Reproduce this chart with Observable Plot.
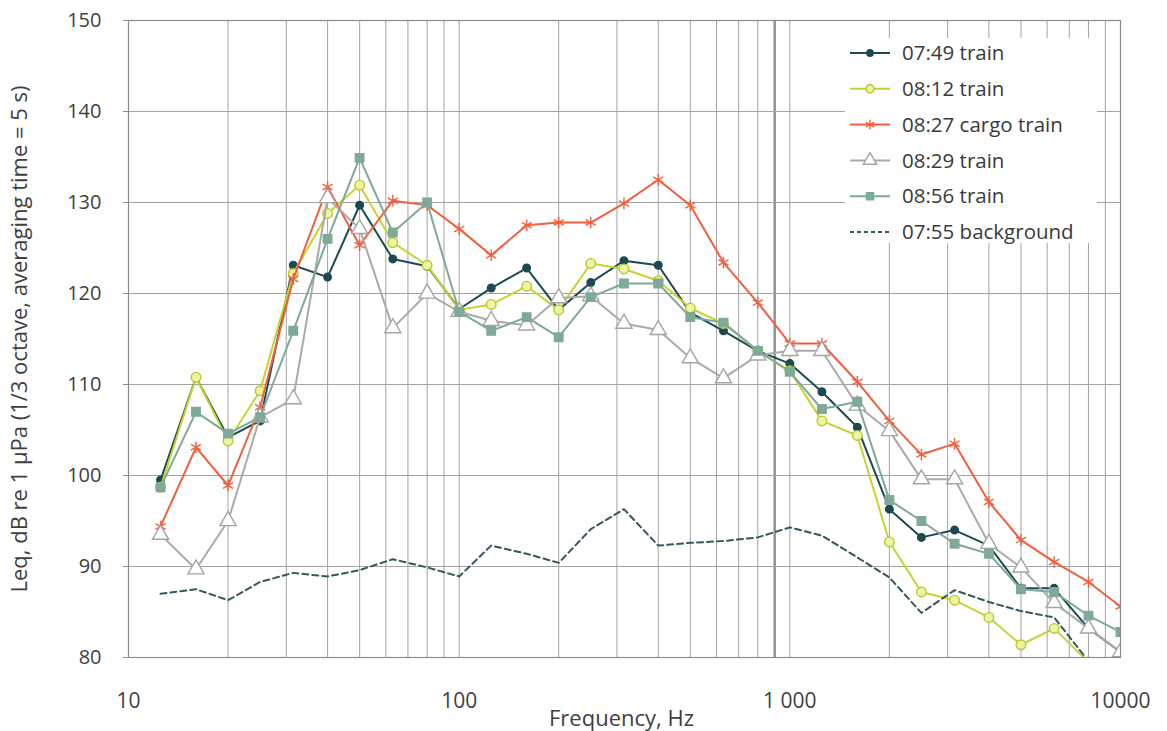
<!DOCTYPE html>
<html>
<head>
<meta charset="utf-8">
<script src="https://cdn.jsdelivr.net/npm/d3@7"></script>
<script src="https://cdn.jsdelivr.net/npm/@observablehq/plot@0.6"></script>
<style>
  html, body { margin: 0; padding: 0; background: #fff; }
  #wrap { position: relative; width: 1167px; height: 731px; }
  #legend { position: absolute; left: 845px; top: 38px; overflow: visible; }
</style>
</head>
<body>
<div id="wrap"></div>
<script>
// ---- data ----
const freqs = [12.5,16,20,25,31.5,40,50,63,80,100,125,160,200,250,315,400,500,630,800,1000,1250,1600,2000,2500,3150,4000,5000,6300,8000,10000];

const t0749 = [99.5,110.8,104.2,106.0,123.1,121.8,129.7,123.8,123.0,118.3,120.6,122.8,118.2,121.2,123.6,123.1,117.9,115.9,113.7,112.3,109.2,105.3,96.3,93.2,94.0,92.3,87.6,87.6,83.2,80.6];
const t0812 = [98.7,110.8,103.8,109.3,122.2,128.8,131.9,125.6,123.1,118.2,118.8,120.8,118.2,123.3,122.7,121.4,118.4,116.7,113.7,111.5,106.0,104.4,92.7,87.2,86.3,84.4,81.4,83.2,79.5,null];
const t0827 = [94.4,103.1,98.9,107.5,121.6,131.7,125.3,130.2,129.7,127.1,124.2,127.5,127.8,127.8,129.9,132.5,129.7,123.4,119.0,114.5,114.5,110.3,106.0,102.3,103.5,97.1,92.9,90.5,88.3,85.6];
const t0829 = [93.5,89.7,95.0,106.4,108.4,130.5,127.1,116.2,120.0,118.0,117.0,116.5,119.5,119.7,116.7,116.0,112.9,110.7,113.2,113.7,113.7,107.7,104.9,99.6,99.6,92.5,89.9,86.0,83.2,80.6];
const t0856 = [98.7,107.0,104.6,106.4,115.9,126.0,134.9,126.7,130.0,118.0,115.9,117.4,115.2,119.6,121.1,121.1,117.4,116.8,113.7,111.4,107.3,108.1,97.3,95.0,92.5,91.4,87.5,87.2,84.6,82.8];
const bg0755 = [87.0,87.5,86.3,88.3,89.3,88.9,89.6,90.8,89.9,88.9,92.3,91.4,90.4,94.1,96.3,92.3,92.6,92.8,93.2,94.3,93.4,91.0,88.8,84.9,87.4,86.1,85.1,84.4,79.6,null];

const xTicks = [10, 100, 1000, 10000];
const xTickLabels = ["10", "100", "1 000", "10000"];
const yTicks = [80, 90, 100, 110, 120, 130, 140, 150];
const xGrid = [20,30,40,50,60,70,80,90,200,300,400,500,600,700,800,900,2000,3000,4000,5000,6000,7000,8000,9000];
const xGridStrong = [900];

const yLabel = "Leq, dB re 1 μPa (1/3 octave, averaging time = 5 s)";
const xLabel = "Frequency, Hz";

const series = [
  {name: "07:49 train",        values: t0749, stroke: "#1d4a52", symbol: "circle",   r: 3.8, fill: "#1d4a52", mstroke: "#1d4a52", dash: null},
  {name: "08:12 train",        values: t0812, stroke: "#c5d431", symbol: "circle",   r: 4.8, fill: "#eef3a6", mstroke: "#b9c92a", dash: null},
  {name: "08:27 cargo train",  values: t0827, stroke: "#f0603f", symbol: "asterisk", r: 5.5, fill: "none",    mstroke: "#f0603f", dash: null},
  {name: "08:29 train",        values: t0829, stroke: "#aaaaaa", symbol: "triangle", r: 6,   fill: "#ffffff", mstroke: "#a5a5a5", dash: null},
  {name: "08:56 train",        values: t0856, stroke: "#7fa999", symbol: "square",   r: 4.8, fill: "#7fa999", mstroke: "#7fa999", dash: null},
  {name: "07:55 background",   values: bg0755, stroke: "#35585d", symbol: null,      r: 0,   fill: "none",    mstroke: "none",    dash: "6,4"}
];

const toRows = (vals) => freqs.map((f, i) => ({f, v: vals[i]})).filter(d => d.v != null);

const marks = [
  Plot.ruleX(xGrid, {stroke: "#a3a3a3", strokeWidth: 1}),
  Plot.ruleX(xGridStrong, {stroke: "#8f8f8f", strokeWidth: 2.4}),
  Plot.ruleY(yTicks, {stroke: "#a3a3a3", strokeWidth: 1}),
  Plot.ruleX(xTicks, {stroke: "#a3a3a3", strokeWidth: 1})
];

for (const s of series) {
  const rows = toRows(s.values);
  marks.push(Plot.line(rows, {
    x: "f", y: "v", stroke: s.stroke, strokeWidth: 2,
    strokeDasharray: s.dash || undefined, clip: true
  }));
  if (s.symbol) {
    marks.push(Plot.dot(rows, {
      x: "f", y: "v", symbol: s.symbol, r: s.r,
      fill: s.fill, stroke: s.mstroke, strokeWidth: 1.4, clip: true
    }));
  }
}

marks.push(
  Plot.frame({stroke: "#8c8c8c", strokeWidth: 1.2}),
  Plot.axisX(xTicks, {
    tickSize: 0, tickPadding: 36, fontSize: 21, fill: "#404040",
    tickFormat: (d) => xTickLabels[xTicks.indexOf(d)], label: null
  }),
  Plot.axisY(yTicks, {
    tickSize: 5, tickPadding: 22, fontSize: 20, fill: "#404040", stroke: "#8c8c8c",
    label: null
  }),
  Plot.text([xLabel], {frameAnchor: "bottom", dy: 61, text: d => d, fontSize: 22, fill: "#404040", lineAnchor: "middle", dx: -3}),
  Plot.text([yLabel], {frameAnchor: "left", dx: -109, rotate: -90, text: d => d, fontSize: 22, fill: "#404040", lineAnchor: "middle", textAnchor: "middle"})
);

const chart = Plot.plot({
  width: 1167,
  height: 731,
  marginLeft: 128,
  marginRight: 47,
  marginTop: 20,
  marginBottom: 74,
  x: {type: "log", domain: [10, 10000]},
  y: {domain: [80, 150]},
  style: {fontFamily: "'Open Sans', sans-serif", background: "#fff", color: "#404040", overflow: "visible"},
  marks
});

const wrap = document.getElementById("wrap");
wrap.appendChild(chart);

// ---- legend (inside plot, top right) ----
const lw = 252, lh = 205;
const leg = d3.select(wrap).append("svg")
  .attr("id", "legend").attr("width", lw).attr("height", lh)
  .style("font-family", "'Open Sans', sans-serif");
leg.append("rect").attr("width", lw).attr("height", lh).attr("fill", "#fff");
const symMap = {circle: d3.symbolCircle, asterisk: d3.symbolAsterisk, triangle: d3.symbolTriangle, square: d3.symbolSquare};
series.forEach((s, i) => {
  const y = 15 + i * 35.8;
  const g = leg.append("g").attr("transform", `translate(0,${y})`);
  g.append("line").attr("x1", 5).attr("x2", 45).attr("y1", 0).attr("y2", 0)
    .attr("stroke", s.stroke).attr("stroke-width", 2)
    .attr("stroke-dasharray", s.dash ? "4,3" : null);
  if (s.symbol) {
    g.append("path").attr("transform", "translate(25,0)")
      .attr("d", d3.symbol(symMap[s.symbol], Math.PI * s.r * s.r * 0.7)())
      .attr("fill", s.fill).attr("stroke", s.mstroke).attr("stroke-width", 1.4);
  }
  g.append("text").attr("x", 57).attr("y", 0).attr("dy", "0.35em")
    .attr("font-size", 20.5).attr("fill", "#3a3a3a").text(s.name);
});
</script>
</body>
</html>
